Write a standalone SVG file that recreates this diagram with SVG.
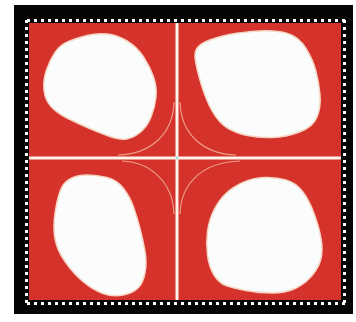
<svg xmlns="http://www.w3.org/2000/svg" width="356" height="322" viewBox="0 0 356 322">
<style>
.blob{fill:#fbfdfd;stroke:#f5d6c4;stroke-width:1.5}
.arc{fill:none;stroke:#eba28c;stroke-width:1.1}
.cross{stroke:#fcf3ea;stroke-width:3}
</style>
<defs>
<pattern id="dh" x="27" y="0" width="7" height="10" patternUnits="userSpaceOnUse"><rect x="0" y="0" width="3" height="10" fill="#ffffff"/></pattern>
<pattern id="dv" x="0" y="20" width="10" height="7" patternUnits="userSpaceOnUse"><rect x="0" y="0" width="10" height="3" fill="#ffffff"/></pattern>
</defs>
<rect width="356" height="322" fill="#ffffff"/>
<g id="frame">
<rect x="14" y="5" width="339" height="309" fill="#050505"/>
<rect x="27" y="19" width="320" height="3" fill="url(#dh)"/>
<rect x="27" y="302" width="320" height="3" fill="url(#dh)"/>
<rect x="25" y="20" width="3" height="284" fill="url(#dv)"/>
<rect x="343" y="20" width="3" height="284" fill="url(#dv)"/>
<rect x="29" y="23" width="312" height="277" fill="#d6322c"/>
</g>
<g id="connectors">
<line class="cross" x1="177" y1="23" x2="177" y2="300"/>
<line class="cross" x1="29" y1="158" x2="341" y2="158"/>
<path class="arc" d="M174,102 C173,135 150,154 118,155"/>
<path class="arc" d="M180,102 C181,135 204,154 236,155"/>
<path class="arc" d="M174,214 C173,182 150,162 122,161"/>
<path class="arc" d="M180,214 C181,182 204,162 240,161"/>
<circle cx="177" cy="158" r="1.5" fill="#9fd6d8"/>
</g>
<g id="blob-tl"><path class="blob" d="M68.5,41.5 Q77,38 87,35.5 Q97,33 107,34 Q117,35 127,41 Q137,47 143.5,57 Q150,67 153.5,77 Q157,87 156,97 Q155,107 151,117 Q147,127 140,132.5 Q133,138 126.5,139 Q120,140 110,136.5 Q100,133 88.5,128 Q77,123 67,118 Q57,113 51,106.5 Q45,100 44,90 Q43,80 46.5,70 Q50,60 55,52.5 Q60,45 68.5,41.5 Z"/></g>
<g id="blob-tr"><path class="blob" d="M205,42 Q216,37 229.5,34.5 Q243,32 259.5,31 Q276,30 287.5,33.5 Q299,37 306,48.5 Q313,60 316,71.5 Q319,83 320,95 Q321,107 317,117 Q313,127 299.5,132 Q286,137 272.5,137.5 Q259,138 247.5,135.5 Q236,133 227.5,128 Q219,123 212.5,111.5 Q206,100 201,83.5 Q196,67 195,57 Q194,47 205,42 Z"/></g>
<g id="blob-bl"><path class="blob" d="M87,175 Q97,175 107,177.5 Q117,180 123.5,188.5 Q130,197 133.5,207 Q137,217 140,228.5 Q143,240 145,251.5 Q147,263 145,273 Q143,283 138,288 Q133,293 123,295 Q113,297 103,293.5 Q93,290 83,281.5 Q73,273 65,261.5 Q57,250 55,238.5 Q53,227 55,213.5 Q57,200 60,191.5 Q63,183 70,179 Q77,175 87,175 Z"/></g>
<g id="blob-br"><path class="blob" d="M243,182.5 Q253,178 264.5,177.5 Q276,177 286,180 Q296,183 302.5,191.5 Q309,200 314,213.5 Q319,227 321,238.5 Q323,250 321,258.5 Q319,267 312.5,275 Q306,283 296,288 Q286,293 272.5,293 Q259,293 246,290.5 Q233,288 226,285.5 Q219,283 214,275 Q209,267 207.5,255 Q206,243 207.5,231.5 Q209,220 214,210 Q219,200 226,193.5 Q233,187 243,182.5 Z"/></g>
</svg>
